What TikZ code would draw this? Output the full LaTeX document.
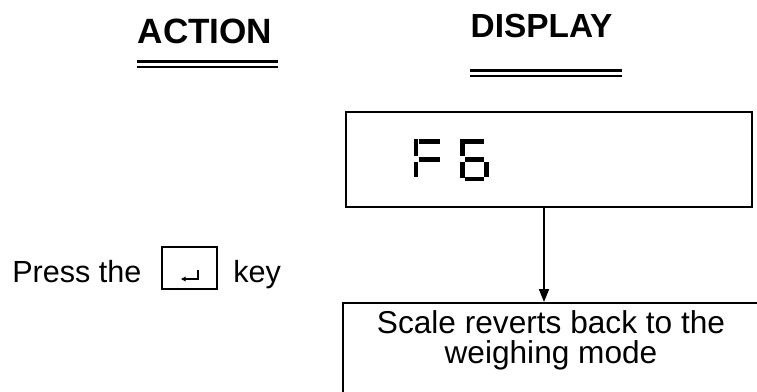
\documentclass[tikz,border=0pt]{standalone}
\usepackage{fontspec}
\setmainfont{Liberation Sans}
\usetikzlibrary{arrows.meta, calc, positioning}

\tikzset{
    head/.style={inner sep=0pt, font=\fontsize{#1}{22}\selectfont\bfseries},
    txt/.style={inner sep=0pt, font=\fontsize{#1}{17}\selectfont},
    thickrule/.style={line width=1.4pt},
    thinrule/.style={line width=0.95pt},
    framebox/.style={draw, line width=1.1pt, inner sep=0pt},
    seg/.style={line width=0.09cm, line cap=butt},
    arr/.style={line width=1.1pt, -{Triangle[length=0.26cm, width=0.2cm]}},
    retsym/.style={line width=0.6pt, -{Triangle[length=2.6pt, width=2.6pt]}}
}

\begin{document}
\begin{tikzpicture}[x=0.02cm, y=-0.02cm]

    \useasboundingbox (0,0) rectangle (757,392);
    \clip (0,0) rectangle (757,392);

    % Column headings
    \node[head=20, anchor=base] (action) at (205,43) {ACTION};
    \draw[thickrule] ($(action.base)+(-68,18.3)$) -- ++(141,0);
    \draw[thinrule] ($(action.base)+(-68,23.7)$) -- ++(141,0);

    \node[head=19, anchor=base] (display) at (541.5,37) {DISPLAY};
    \draw[thickrule] ($(display.base)+(-71.5,33.3)$) -- ++(152,0);
    \draw[thinrule] ($(display.base)+(-71.5,39.2)$) -- ++(152,0);

    % Action: press the enter key
    \node[txt=17.4, anchor=base west] (press) at (12,282) {Press the};
    \node[framebox, minimum width=1.1cm, minimum height=0.84cm] (enterkey) at (189.5,268) {};
    \draw[retsym] ($(enterkey.center)+(8.5,2)$) -- ++(0,9) -- ++(-17,0);
    \node[txt=17.4, anchor=base west] (keyword) at (233,282) {key};

    % Display window with F6
    \node[framebox, minimum width=8.12cm, minimum height=1.9cm] (disp) at (549,159.5) {};
    \foreach \xa/\ya/\xb/\yb in {416/139/416/156, 416/162/416/177,
                                 418.5/141.3/440/141.3, 418.5/159.3/440/159.3,
                                 462.5/139/462.5/156, 462.5/162/462.5/178,
                                 465/141.3/484/141.3, 465/159.3/484/159.3,
                                 465/178.8/484/178.8, 486.5/162/486.5/177}
        \draw[seg] (\xa,\ya) -- (\xb,\yb);

    % Result
    \node[framebox, anchor=north west, minimum width=8.6cm, minimum height=2.4cm] (res) at (342,302) {};
    \node[txt=18, align=center] (restext) at (551,340) {Scale reverts back to the\\weighing mode};

    \coordinate (ax) at (544,0);
    \draw[arr] (disp.south -| ax) -- (res.north -| ax);

\end{tikzpicture}
\end{document}
